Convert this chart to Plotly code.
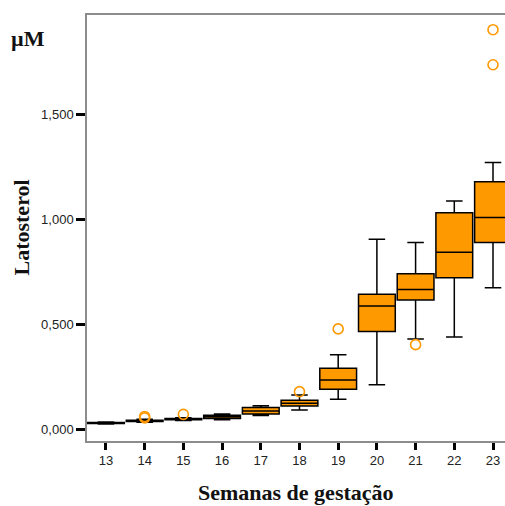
import plotly.graph_objects as go

weeks = [13, 14, 15, 16, 17, 18, 19, 20, 21, 22, 23]
q1 = [0.028, 0.038, 0.046, 0.052, 0.074, 0.112, 0.191, 0.466, 0.617, 0.723, 0.891]
median = [0.030, 0.041, 0.049, 0.060, 0.088, 0.125, 0.236, 0.588, 0.666, 0.844, 1.010]
q3 = [0.033, 0.044, 0.052, 0.068, 0.104, 0.139, 0.291, 0.644, 0.742, 1.032, 1.180]
lower_whisker = [0.026, 0.034, 0.043, 0.046, 0.066, 0.093, 0.144, 0.213, 0.431, 0.440, 0.675]
upper_whisker = [0.035, 0.048, 0.056, 0.074, 0.113, 0.164, 0.356, 0.906, 0.891, 1.088, 1.272]

outlier_weeks = [14, 14, 15, 18, 19, 21, 23, 23]
outlier_values = [0.062, 0.055, 0.072, 0.180, 0.479, 0.404, 1.737, 1.904]

y_tick_vals = [0.0, 0.5, 1.0, 1.5]
y_tick_text = ["0,000", "0,500", "1,000", "1,500"]

ORANGE = "#FF9900"
SERIF = "Liberation Serif, Times New Roman"

fig = go.Figure()
fig.add_trace(go.Box(
    x=weeks, q1=q1, median=median, q3=q3,
    lowerfence=lower_whisker, upperfence=upper_whisker,
    width=0.95, whiskerwidth=0.45,
    fillcolor=ORANGE, line=dict(color="#000000", width=1.5),
    boxpoints=False, showlegend=False, hoverinfo="skip",
))
fig.add_trace(go.Scatter(
    x=outlier_weeks, y=outlier_values, mode="markers",
    marker=dict(symbol="circle-open", size=10, color=ORANGE, line=dict(width=1.6, color=ORANGE)),
    showlegend=False, hoverinfo="skip",
))

fig.update_layout(
    width=505, height=506,
    margin=dict(l=87, r=0, t=15, b=65),
    paper_bgcolor="white", plot_bgcolor="white",
    font=dict(family="Liberation Sans, Arial", size=13, color="#222222"),
    xaxis=dict(
        range=[12.51, 23.31], tickmode="array", tickvals=weeks,
        ticktext=[str(w) for w in weeks],
        showgrid=False, zeroline=False,
        showline=True, linecolor="#8c8c8c", linewidth=1.5, mirror=True,
        ticks="outside", ticklen=7, tickwidth=3, tickcolor="#000000",
        tickfont=dict(size=13, color="#222222"),
    ),
    yaxis=dict(
        range=[-0.055, 1.974], tickmode="array", tickvals=y_tick_vals,
        ticktext=y_tick_text,
        showgrid=False, zeroline=False,
        showline=True, linecolor="#8c8c8c", linewidth=1.5,
        ticks="outside", ticklen=9, tickwidth=3, tickcolor="#000000",
        tickfont=dict(size=13, color="#222222"),
    ),
    annotations=[
        dict(text="<b>Latosterol</b>", xref="paper", yref="paper",
             x=-0.157, y=0.502, showarrow=False, textangle=-90,
             xanchor="center", yanchor="middle",
             font=dict(family=SERIF, size=22, color="#111111")),
        dict(text="<b>Semanas de gestação</b>", xref="paper", yref="paper",
             x=0.5, y=-0.122, showarrow=False,
             xanchor="center", yanchor="middle",
             font=dict(family=SERIF, size=22, color="#111111")),
        dict(text="<b>µM</b>", xref="paper", yref="paper",
             x=-0.141, y=0.945, showarrow=False,
             xanchor="center", yanchor="middle",
             font=dict(family=SERIF, size=22, color="#111111")),
    ],
)

fig.write_html("out.html")
